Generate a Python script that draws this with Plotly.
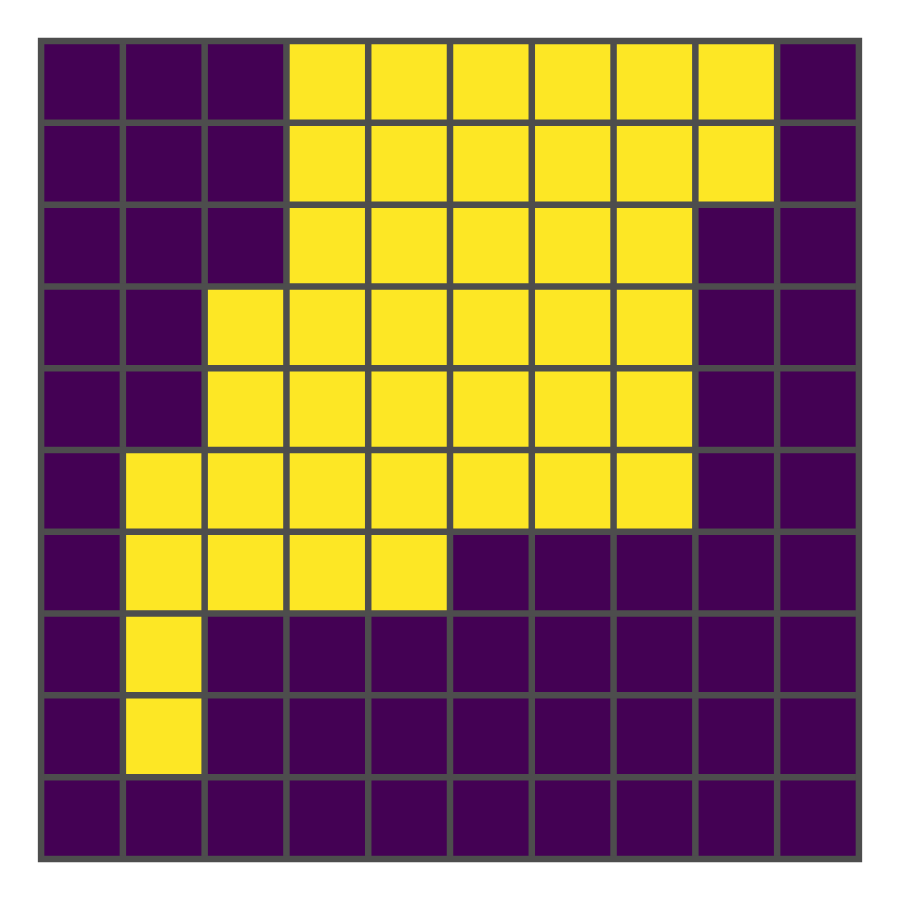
import plotly.graph_objects as go

grid = [
    [0, 0, 0, 1, 1, 1, 1, 1, 1, 0],
    [0, 0, 0, 1, 1, 1, 1, 1, 1, 0],
    [0, 0, 0, 1, 1, 1, 1, 1, 0, 0],
    [0, 0, 1, 1, 1, 1, 1, 1, 0, 0],
    [0, 0, 1, 1, 1, 1, 1, 1, 0, 0],
    [0, 1, 1, 1, 1, 1, 1, 1, 0, 0],
    [0, 1, 1, 1, 1, 0, 0, 0, 0, 0],
    [0, 1, 0, 0, 0, 0, 0, 0, 0, 0],
    [0, 1, 0, 0, 0, 0, 0, 0, 0, 0],
    [0, 0, 0, 0, 0, 0, 0, 0, 0, 0],
]
n_rows = len(grid)
n_cols = len(grid[0])
cols = list(range(n_cols))
rows = list(range(n_rows))

LINE = "#4d4d4d"
LW = 6.5

fig = go.Figure()
fig.add_trace(go.Heatmap(
    z=grid, x=cols, y=rows,
    colorscale=[[0, "#440154"], [1, "#FDE725"]],
    zmin=0, zmax=1, showscale=False, hoverinfo="skip",
))

# interior grid lines
gx, gy = [], []
for k in range(1, n_cols):
    b = k - 0.5
    gx += [b, b, None]
    gy += [-0.5, n_rows - 0.5, None]
for k in range(1, n_rows):
    b = k - 0.5
    gx += [-0.5, n_cols - 0.5, None]
    gy += [b, b, None]
fig.add_trace(go.Scatter(x=gx, y=gy, mode="lines",
                         line=dict(color=LINE, width=LW), hoverinfo="skip",
                         showlegend=False))
# outer border (start mid-edge so all corners are proper joins)
mid = (n_cols - 1) / 2
fig.add_trace(go.Scatter(
    x=[mid, n_cols - 0.5, n_cols - 0.5, -0.5, -0.5, mid + 0.01],
    y=[-0.5, -0.5, n_rows - 0.5, n_rows - 0.5, -0.5, -0.5],
    mode="lines", line=dict(color=LINE, width=LW), hoverinfo="skip",
    showlegend=False))

fig.update_xaxes(range=[-0.55, n_cols - 0.45], visible=False, showgrid=False, zeroline=False)
fig.update_yaxes(range=[n_rows - 0.45, -0.55], visible=False, showgrid=False, zeroline=False)
fig.update_layout(
    width=900, height=900,
    margin=dict(l=37, r=37, t=37, b=37),
    paper_bgcolor="white", plot_bgcolor="white",
    showlegend=False,
)
fig.write_html("out.html")
